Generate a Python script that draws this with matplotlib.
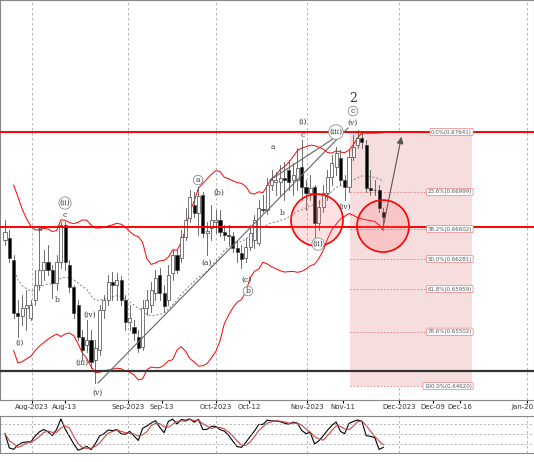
import numpy as np
import pandas as pd
import matplotlib
matplotlib.use("Agg")
import matplotlib.pyplot as plt
from matplotlib.patches import Ellipse, Rectangle

# chart read in screen pixels (y down), converted to price below
TOP_PX, TOP_PRICE = 132, 0.67641
PX_PER_PRICE = 254 / (0.67641 - 0.64620)

def price(y):
    return TOP_PRICE - (np.asarray(y, dtype=float) - TOP_PX) / PX_PER_PRICE

open_px = [240, 238, 260, 313, 316, 308, 318, 300, 285, 270, 262, 270, 283, 262, 225, 265, 287, 305, 337, 345,
           340, 360, 350, 310, 300, 282, 285, 280, 300, 322, 327, 337, 347, 308, 305, 293, 275, 293, 300, 273,
           255, 258, 237, 218, 205, 213, 195, 233, 228, 222, 220, 232, 235, 236, 248, 253, 258, 247, 240, 243,
           209, 210, 185, 182, 182, 178, 170, 180, 180, 167, 187, 193, 187, 223, 207, 193, 177, 167, 158, 180,
           187, 157, 145, 138, 145, 188, 190, 190, 212]
close_px = [232, 258, 313, 316, 308, 305, 305, 285, 270, 262, 270, 283, 262, 225, 262, 287, 313, 337, 350, 340,
            362, 348, 310, 300, 282, 285, 280, 300, 322, 318, 333, 348, 308, 300, 290, 278, 293, 306, 275, 255,
            270, 237, 220, 197, 213, 196, 233, 231, 220, 220, 232, 235, 236, 248, 252, 259, 247, 233, 220, 208,
            210, 185, 180, 180, 178, 180, 182, 175, 168, 187, 193, 188, 223, 207, 193, 177, 163, 153, 180, 187,
            157, 147, 138, 142, 188, 190, 190, 208, 217]
high_px = [220, 230, 255, 300, 295, 290, 300, 270, 228, 250, 245, 265, 255, 222, 222, 260, 285, 300, 330, 320,
           330, 340, 305, 295, 275, 272, 273, 276, 295, 305, 320, 330, 300, 290, 282, 270, 268, 285, 265, 250,
           250, 230, 208, 190, 192, 187, 192, 222, 205, 210, 210, 225, 225, 232, 240, 245, 238, 225, 215, 200,
           195, 178, 170, 172, 165, 162, 160, 163, 148, 140, 180, 175, 185, 200, 185, 170, 155, 147, 150, 175,
           150, 135, 130, 132, 140, 170, 180, 185, 208]
low_px = [245, 262, 318, 337, 325, 330, 320, 305, 290, 280, 275, 298, 290, 268, 270, 292, 318, 340, 360, 352,
          368, 383, 355, 318, 305, 300, 300, 305, 330, 330, 340, 352, 350, 315, 312, 300, 300, 312, 305, 280,
          273, 262, 240, 222, 217, 235, 237, 255, 240, 233, 236, 240, 245, 252, 262, 268, 262, 250, 248, 245,
          212, 214, 190, 195, 195, 200, 190, 195, 190, 200, 210, 200, 237, 230, 212, 200, 185, 175, 185, 200,
          192, 160, 148, 148, 192, 195, 195, 212, 228]

o, c, h, l = price(open_px), price(close_px), price(high_px), price(low_px)
n = len(c)
xi = np.arange(n)

X0, PX_PER_BAR = 5, 4.3
def bx(px):
    return (px - X0) / PX_PER_BAR

tick_px = [32, 65, 128, 162, 216, 249, 307, 343, 399, 433, 460, 527]
tick_labels = ["Aug-2023", "Aug-13", "Sep-2023", "Sep-13", "Oct-2023", "Oct-12", "Nov-2023", "Nov-11",
               "Dec-2023", "Dec-09", "Dec-16", "Jan-2024"]
month_px = [32, 128, 216, 307, 399, 527]

fib_pct = [0.0, 23.6, 38.2, 50.0, 61.8, 78.6, 100.0]
fib_labels = ["0.67641", "0.66999", "0.66602", "0.66281", "0.65959", "0.65502", "0.64620"]
fib_top, fib_bot = 0.67641, 0.64620

waves = [("(i)", 20, 343), ("a", 40, 229), ("(ii)", 65, 203), ("c", 65, 215), ("b", 57, 300),
         ("(iv)", 90, 315), ("(iii)", 82, 363), ("(v)", 98, 393), ("a", 198, 180), ("(b)", 219, 193),
         ("(a)", 207, 263), ("(c)", 247, 280), ("b", 248, 291), ("a", 273, 147), ("b", 282, 213),
         ("(i)", 303, 122), ("c", 303, 135), ("(iii)", 336, 132), ("(iv)", 345, 207), ("(ii)", 318, 244),
         ("c", 353, 111), ("(v)", 353, 123)]
circled = {2, 8, 12, 17, 19, 20}

fig = plt.figure(figsize=(5.34, 4.62), dpi=100)
ax = fig.add_axes([0, 0.134, 1, 0.866])
osc = fig.add_axes([0, 0.02, 1, 0.08])

# bollinger bands
cs = pd.Series(c)
mid = cs.rolling(20, min_periods=3).mean()
sd = cs.rolling(20, min_periods=3).std()
ax.plot(xi, mid + 2 * sd, color="red", lw=0.7, zorder=2)
ax.plot(xi, mid - 2 * sd, color="red", lw=0.7, zorder=2)
ax.plot(xi, mid, color="gray", lw=0.7, ls=(0, (2, 2)), zorder=2)

# candles
for i in range(n):
    ax.plot([i, i], [l[i], h[i]], color="#555555", lw=0.6, zorder=3)
    up = c[i] >= o[i]
    ax.add_patch(Rectangle((i - 0.35, min(o[i], c[i])), 0.7, max(abs(c[i] - o[i]), 0.00004),
                           facecolor="white" if up else "black", edgecolor="#444444", lw=0.5, zorder=4))

# fib box
ax.add_patch(Rectangle((bx(350), fib_bot), bx(472) - bx(350), fib_top - fib_bot,
                       facecolor="#f7dede", edgecolor="none", zorder=1))
for pct, lab in zip(fib_pct, fib_labels):
    yv = fib_top - pct / 100 * (fib_top - fib_bot)
    ax.plot([bx(350), bx(472)], [yv, yv], color="#e08080", lw=0.6, ls=(0, (2, 2)), zorder=1)
    ax.text(bx(472), yv, f"{pct:.1f}%({lab})", fontsize=4, ha="right", va="center", color="#555555",
            bbox=dict(boxstyle="round,pad=0.2", fc="white", ec="#e08080", lw=0.5), zorder=6)

# horizontal levels
ax.axhline(price(132), color="red", lw=1.4, zorder=5)
ax.axhline(price(227), color="red", lw=1.4, zorder=5)
ax.axhline(price(371), color="#333333", lw=1.6, zorder=5)

for px in month_px:
    ax.axvline(bx(px), color="#aaaaaa", lw=0.6, ls=(0, (3, 3)), zorder=0)
    osc.axvline(bx(px), color="#aaaaaa", lw=0.6, ls=(0, (3, 3)), zorder=0)

# trend lines and arrow
ax.plot([bx(98), bx(348)], price([383, 128]), color="#666666", lw=0.8, zorder=5)
ax.plot([bx(270), bx(342)], price([180, 133]), color="#666666", lw=0.8, zorder=5)
ax.annotate("", xy=(bx(402), price(134)), xytext=(bx(383), price(228)),
            arrowprops=dict(arrowstyle="-|>", color="#555555", lw=0.8), zorder=6)

# circles
for cx, cy, r in [(317, 220, 26), (383, 226, 26)]:
    ax.add_patch(Ellipse((bx(cx), price(cy)), 2 * r / PX_PER_BAR, 2 * r / PX_PER_PRICE,
                         facecolor=(1, 0.4, 0.4, 0.2), edgecolor="red", lw=1.2, zorder=6))

for k, (t, px, py) in enumerate(waves):
    kw = {}
    if k in circled:
        kw["bbox"] = dict(boxstyle="circle,pad=0.1", fc="white", ec="#777777", lw=0.5)
    ax.text(bx(px), price(py), t, fontsize=5.5, family="DejaVu Serif", ha="center", va="center",
            color="#333333", zorder=7, **kw)
ax.text(bx(353), price(98), "2", fontsize=9, family="DejaVu Serif", ha="center", va="center", color="#333333")

ax.set_xlim(bx(0), bx(534))
ax.set_ylim(price(400), price(0))
ax.set_xticks([bx(p) for p in tick_px])
ax.set_xticklabels(tick_labels, fontsize=5, color="#333333")
ax.tick_params(axis="x", length=2, pad=1)
ax.set_yticks([])
for s in ax.spines.values():
    s.set_color("#888888")

# stochastic oscillator
hs, ls_ = pd.Series(h), pd.Series(l)
k_line = 100 * (cs - ls_.rolling(14, min_periods=1).min()) / (hs.rolling(14, min_periods=1).max() - ls_.rolling(14, min_periods=1).min())
d_line = k_line.rolling(3, min_periods=1).mean()
osc.plot(xi, k_line, color="black", lw=0.8)
osc.plot(xi, d_line, color="#cc4444", lw=0.8)
for lv in (20, 50, 80):
    osc.axhline(lv, color="#999999", lw=0.5, ls=(0, (3, 3)))
osc.set_xlim(bx(0), bx(534))
osc.set_ylim(-5, 105)
osc.set_xticks([])
osc.set_yticks([])
for s in osc.spines.values():
    s.set_color("#888888")

fig.savefig("out.png", dpi=100)
